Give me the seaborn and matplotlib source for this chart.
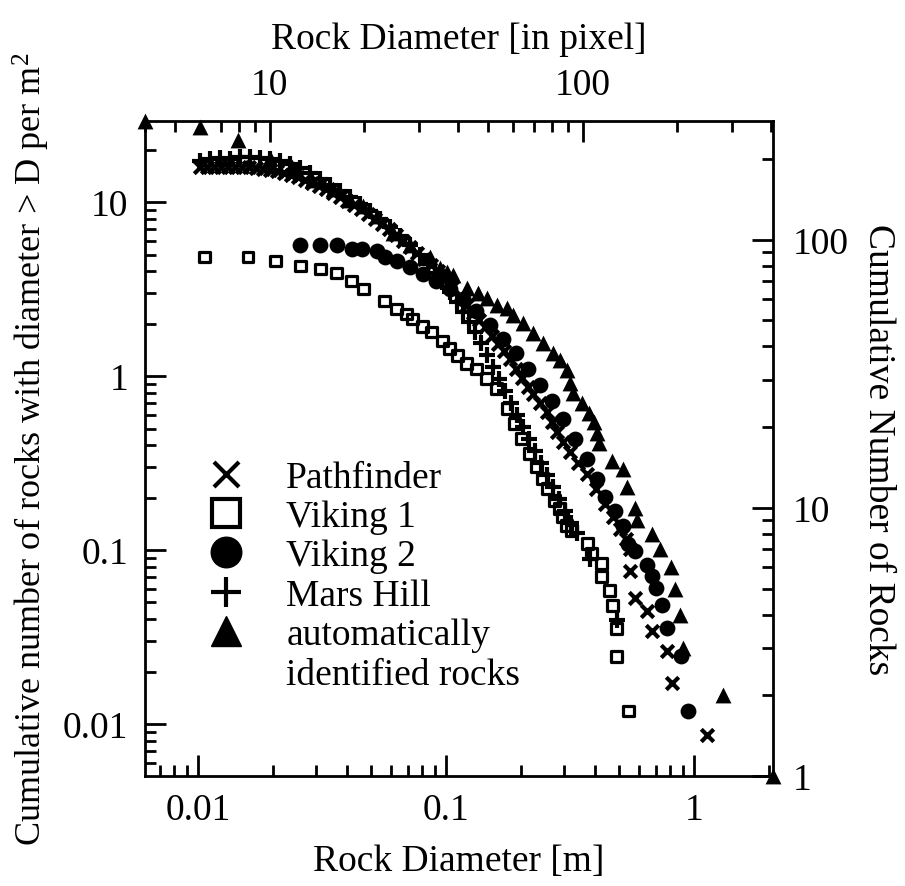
import matplotlib
matplotlib.use("Agg")
import matplotlib.pyplot as plt
from matplotlib.lines import Line2D
import seaborn as sns

# Pathfinder (x) - rock diameter [m], cumulative number per m^2
pf_d = [0.01016, 0.01084, 0.01157, 0.01235, 0.01318, 0.01406, 0.01501, 0.01601,
        0.01709, 0.01824, 0.01946, 0.02077, 0.02216, 0.02365, 0.02523, 0.02693,
        0.02873, 0.03066, 0.03272, 0.03492, 0.03727, 0.03977, 0.04244, 0.04529,
        0.04833, 0.05158, 0.05504, 0.05875, 0.06269, 0.0669, 0.0714, 0.0762,
        0.0813, 0.0868, 0.0926, 0.0988, 0.1054, 0.1136, 0.1212, 0.1282, 0.1355,
        0.1432, 0.1529, 0.1616, 0.1709, 0.1807, 0.191, 0.2019, 0.2135, 0.2237,
        0.2387, 0.2547, 0.2669, 0.2796, 0.2956, 0.3154, 0.3396, 0.3693, 0.4014,
        0.4365, 0.47, 0.5016, 0.5303, 0.5504, 0.5504, 0.5768, 0.6447, 0.675,
        0.776, 0.813, 1.125]
pf_n = [15.88, 15.88, 15.88, 15.88, 15.88, 15.88, 15.88, 15.88, 15.67, 15.46,
        15.26, 15.06, 14.67, 14.29, 13.91, 13.37, 12.85, 12.35, 11.87, 11.26,
        10.68, 10.13, 9.61, 9.12, 8.53, 7.99, 7.48, 7.0, 6.47, 5.97, 5.52, 5.10,
        4.71, 4.35, 4.02, 3.62, 3.25, 2.89, 2.57, 2.31, 2.10, 1.92, 1.70, 1.53,
        1.40, 1.257, 1.10, 0.978, 0.868, 0.792, 0.703, 0.624, 0.547, 0.479,
        0.420, 0.368, 0.318, 0.275, 0.2256, 0.185, 0.156, 0.133, 0.1166, 0.102,
        0.0754, 0.0528, 0.0444, 0.0341, 0.0262, 0.01716, 0.00864]

# Viking 1 (open squares)
v1_d = [0.0106, 0.0159, 0.0206, 0.0259, 0.0312, 0.0362, 0.0417, 0.0466, 0.0566,
        0.0633, 0.0694, 0.0734, 0.0805, 0.0876, 0.097, 0.1035, 0.1115, 0.121,
        0.133, 0.146, 0.16, 0.176, 0.189, 0.202, 0.2175, 0.232, 0.2455, 0.257,
        0.274, 0.2875, 0.295, 0.307, 0.321, 0.373, 0.387, 0.425, 0.425, 0.457,
        0.47, 0.488, 0.488, 0.5455]
v1_n = [4.84, 4.84, 4.59, 4.30, 4.13, 3.92, 3.52, 3.17, 2.70, 2.43, 2.28, 2.13,
        1.92, 1.795, 1.594, 1.435, 1.31, 1.178, 1.10, 0.965, 0.845, 0.649, 0.532,
        0.4365, 0.358, 0.302, 0.2575, 0.2256, 0.1926, 0.1733, 0.156, 0.1384,
        0.1296, 0.1091, 0.0956, 0.0838, 0.0706, 0.0586, 0.0481, 0.0355, 0.0245,
        0.0119]

# Viking 2 (filled circles)
v2_d = [0.0257, 0.031, 0.0362, 0.0417, 0.0457, 0.0526, 0.0566, 0.0633, 0.0714,
        0.0805, 0.0909, 0.1035, 0.1168, 0.1318, 0.15, 0.1693, 0.191, 0.2135,
        0.2387, 0.2669, 0.2956, 0.3304, 0.3693, 0.4052, 0.4365, 0.479, 0.5156,
        0.5405, 0.577, 0.6447, 0.675, 0.7003, 0.741, 0.776, 0.8839, 0.943]
v2_n = [5.67, 5.67, 5.67, 5.37, 5.37, 5.24, 4.84, 4.59, 4.24, 3.86, 3.52, 3.17,
        2.78, 2.37, 1.97, 1.64, 1.36, 1.10, 0.891, 0.722, 0.569, 0.4365, 0.335,
        0.2575, 0.203, 0.1687, 0.1384, 0.1091, 0.0982, 0.0816, 0.0706, 0.0602,
        0.0481, 0.0355, 0.0245, 0.01186]

# Mars Hill (+)
mh_d = [0.01016, 0.01115, 0.01223, 0.01342, 0.01473, 0.01616, 0.01773, 0.01946,
        0.02135, 0.02343, 0.0257, 0.02821, 0.031, 0.03396, 0.03727, 0.0409,
        0.04487, 0.04924, 0.05404, 0.0593, 0.0651, 0.0714, 0.0783, 0.0844, 0.09,
        0.0961, 0.1035, 0.1104, 0.1168, 0.1234, 0.1305, 0.138, 0.1459, 0.1543,
        0.1632, 0.1725, 0.1824, 0.1928, 0.2039, 0.2156, 0.2279, 0.241, 0.2547,
        0.2693, 0.2847, 0.301, 0.3183, 0.3365, 0.3797, 0.4875]
mh_n = [17.19, 17.65, 17.88, 17.65, 18.13, 18.13, 17.88, 17.65, 17.19, 16.52,
        15.67, 14.67, 13.55, 12.52, 11.56, 10.68, 9.74, 8.88, 7.99, 7.19, 6.38,
        5.67, 4.97, 4.41, 3.91, 3.48, 3.04, 2.67, 2.34, 2.05, 1.80, 1.55, 1.325,
        1.13, 0.965, 0.823, 0.703, 0.600, 0.512, 0.4365, 0.3727, 0.318, 0.2716,
        0.2317, 0.1977, 0.1687, 0.144, 0.1262, 0.0895, 0.0395]

# automatically identified rocks: diameter [pixel], cumulative count
auto_px = [3.99, 5.97, 7.91, 10, 11.8, 13.7, 15.9, 18.0, 19.8, 22.0, 24.7, 28.0,
           32.4, 34.9, 36.8, 38.4, 42.6, 46.2, 49.3, 53.1, 57.2, 59.8, 64.3, 69.2,
           74.5, 80.2, 84.4, 88.9, 90.9, 92.9, 99.3, 105, 109, 111, 113, 124, 134,
           139, 147, 149, 166, 176, 192, 197, 204, 209, 280, 405]
auto_cnt = [276, 262, 236, 202, 187, 167, 154, 141, 133, 122, 106, 95.8, 86.4,
            78.6, 76, 74, 66.2, 63.4, 60.8, 57.2, 55.8, 52.5, 49, 45, 41.3, 37.9,
            35.7, 32.7, 29.3, 26.9, 24.6, 22.6, 20.9, 19, 17.5, 15, 14, 12, 10, 9,
            8, 7, 6, 5, 4, 3, 2, 1]

sns.set_style("ticks")
plt.rcParams["font.family"] = ["Liberation Serif", "DejaVu Serif"]
plt.rcParams["mathtext.fontset"] = "custom"
plt.rcParams["mathtext.rm"] = "Liberation Serif"
plt.rcParams["mathtext.it"] = "Liberation Serif:italic"
for key in ["text.color", "axes.labelcolor", "xtick.color", "ytick.color",
            "axes.edgecolor"]:
    plt.rcParams[key] = "black"

FS = 27
LW = 2.0

fig = plt.figure(figsize=(9.05, 8.87), dpi=100)
rect = [0.160, 0.124, 0.694, 0.7385]
ax = fig.add_axes(rect)
ax2 = fig.add_axes(rect, frameon=False)
ax2.patch.set_visible(False)

sns.scatterplot(x=v1_d, y=v1_n, marker="s", s=60, facecolor="none",
                edgecolor="black", linewidth=2.3, ax=ax, zorder=3)
sns.scatterplot(x=v2_d, y=v2_n, marker="o", s=130, color="black",
                linewidth=0, ax=ax, zorder=3)
sns.scatterplot(x=pf_d, y=pf_n, marker="x", s=80, color="black",
                linewidth=3.0, ax=ax, zorder=3)
sns.scatterplot(x=mh_d, y=mh_n, marker="+", s=120, color="black",
                linewidth=3.0, ax=ax, zorder=3)
sns.scatterplot(x=auto_px, y=auto_cnt, marker="^", s=130, color="black",
                linewidth=0, ax=ax2, zorder=3, clip_on=False)

ax.set_xscale("log")
ax.set_yscale("log")
ax.set_xlim(0.0061, 2.08)
ax.set_ylim(0.00503, 29.3)
ax.set_xticks([0.01, 0.1, 1], labels=["0.01", "0.1", "1"])
ax.set_yticks([0.01, 0.1, 1, 10], labels=["0.01", "0.1", "1", "10"])
ax.tick_params(which="both", direction="in", width=LW, labelsize=FS,
               top=False, right=False)
ax.tick_params(which="major", length=15, pad=12)
ax.tick_params(which="minor", length=8)
ax.tick_params(axis="y", which="major", pad=12)
for sp in ax.spines.values():
    sp.set_linewidth(LW)
ax.set_xlabel("Rock Diameter [m]", fontsize=FS, labelpad=12)
ax.set_ylabel("Cumulative number of rocks with diameter > D per m$^2$",
              fontsize=FS - 1, labelpad=8)

ax2.set_xscale("log")
ax2.set_yscale("log")
ax2.set_xlim(3.99, 405)
ax2.set_ylim(1, 277)
ax2.xaxis.tick_top()
ax2.yaxis.tick_right()
ax2.xaxis.set_label_position("top")
ax2.yaxis.set_label_position("right")
ax2.set_xticks([10, 100], labels=["10", "100"])
ax2.set_yticks([1, 10, 100], labels=["1", "10", "100"])
ax2.tick_params(which="both", direction="in", width=LW, labelsize=FS)
ax2.tick_params(which="major", length=15, pad=14)
ax2.tick_params(which="minor", length=8)
ax2.set_xlabel("Rock Diameter [in pixel]", fontsize=FS, labelpad=14)
ax2.set_ylabel("Cumulative Number of Rocks", fontsize=FS, rotation=270,
               labelpad=34)

handles = [
    Line2D([], [], ls="none", marker="x", color="black", ms=18, mew=3),
    Line2D([], [], ls="none", marker="s", mfc="white", mec="black", ms=20, mew=3),
    Line2D([], [], ls="none", marker="o", color="black", ms=22),
    Line2D([], [], ls="none", marker="+", color="black", ms=22, mew=3),
    Line2D([], [], ls="none", marker="^", color="black", ms=22),
    Line2D([], [], ls="none"),
]
labels = ["Pathfinder", "Viking 1", "Viking 2", "Mars Hill", "automatically",
          "identified rocks"]
ax.legend(handles, labels, loc="upper left", bbox_to_anchor=(0.07, 0.505),
          frameon=False, fontsize=FS, handlelength=1.2, handletextpad=1.0,
          labelspacing=0.13, borderaxespad=0)

fig.savefig("out.png", dpi=100)
